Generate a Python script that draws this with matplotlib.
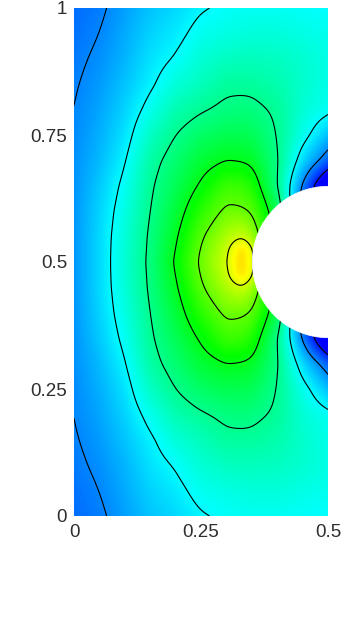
"""Field on a domain with a circular hole, filled plus contour lines."""
import numpy as np
import matplotlib
matplotlib.use("Agg")
import matplotlib.pyplot as plt  # noqa: E402
from matplotlib.colors import LinearSegmentedColormap  # noqa: E402
from matplotlib.patches import Circle  # noqa: E402

plt.rcParams["font.family"] = ["Liberation Sans", "DejaVu Sans"]

x_nodes = [0, 0.05, 0.1, 0.15, 0.2, 0.25, 0.3, 0.33, 0.35, 0.4, 0.45, 0.5]
y_nodes = [0, 0.05, 0.1, 0.15, 0.2, 0.25, 0.3, 0.35, 0.4, 0.45, 0.475, 0.5, 0.525,
           0.55, 0.6, 0.65, 0.7, 0.75, 0.8, 0.85, 0.9, 0.95, 1]

# rows run from y=0 up to y=1, values under the hole are only there for the contours
field = [
    [.105, .12, .155, .19, .21, .24, .255, .26, .26, .26, .255, .25],
    [.11, .13, .165, .205, .228, .265, .275, .28, .285, .285, .275, .265],
    [.118, .14, .175, .22, .25, .29, .31, .315, .315, .31, .295, .275],
    [.125, .15, .19, .235, .285, .315, .345, .345, .345, .33, .30, .27],
    [.131, .16, .205, .265, .325, .353, .375, .38, .375, .35, .29, .26],
    [.135, .17, .22, .305, .36, .40, .42, .42, .415, .358, .27, .185],
    [.14, .18, .24, .335, .39, .445, .475, .47, .46, .368, .21, .09],
    [.142, .195, .26, .35, .415, .485, .555, .55, .525, .365, .12, -.11],
    [.145, .205, .275, .36, .44, .535, .605, .60, .585, .42, .07, -.1],
    [.145, .21, .285, .37, .465, .58, .665, .70, .655, .43, .20, .0],
    [.145, .21, .288, .372, .475, .595, .69, .79, .72, .44, .25, .05],
    [.145, .21, .29, .375, .485, .605, .70, .80, .72, .45, .30, .10],
    [.145, .21, .288, .372, .475, .595, .69, .79, .72, .44, .25, .05],
    [.145, .21, .285, .37, .465, .58, .665, .70, .655, .43, .20, .0],
    [.145, .205, .275, .36, .44, .535, .605, .60, .585, .42, .07, -.1],
    [.142, .195, .26, .35, .415, .485, .555, .55, .525, .365, .12, -.11],
    [.14, .18, .24, .335, .39, .445, .475, .47, .46, .368, .21, .09],
    [.135, .17, .22, .305, .36, .40, .42, .42, .415, .358, .27, .185],
    [.131, .16, .205, .265, .325, .353, .375, .38, .375, .35, .29, .26],
    [.125, .15, .19, .235, .285, .315, .345, .345, .345, .33, .30, .27],
    [.118, .14, .175, .22, .25, .29, .31, .315, .315, .31, .295, .275],
    [.11, .13, .165, .205, .228, .265, .275, .28, .285, .285, .275, .265],
    [.105, .12, .155, .19, .21, .24, .255, .26, .26, .26, .255, .25],
]
contour_levels = [0.02, 0.13, 0.245, 0.36, 0.475, 0.59, 0.705]
x_ticks = [0, 0.25, 0.5]
x_labels = ["0", "0.25", "0.5"]
y_ticks = [0, 0.25, 0.5, 0.75, 1]
y_labels = ["0", "0.25", "0.5", "0.75", "1"]
hole_center = (0.5, 0.5)
hole_radius = 0.149
blur = 0.008  # display smoothing of the coarse read-off table

cmap = LinearSegmentedColormap.from_list(
    "fem", ["#0000ff", "#00ffff", "#00ff00", "#ffff00", "#ff0000"], N=512)

# resample the table on a fine regular grid and blur it, so lines don't show the coarse cells
step = 0.0025
xf = np.arange(0, 0.5 + step / 2, step)
yf = np.arange(0, 1 + step / 2, step)
z = np.array([np.interp(xf, x_nodes, row) for row in field])
z = np.array([np.interp(yf, y_nodes, col) for col in z.T]).T
n = int(3 * blur / step)
kern = np.exp(-0.5 * (np.arange(-n, n + 1) * step / blur) ** 2)
kern /= kern.sum()
z = np.pad(z, n, mode="reflect", reflect_type="odd")
z = np.apply_along_axis(np.convolve, 0, z, kern, mode="same")
z = np.apply_along_axis(np.convolve, 1, z, kern, mode="same")
z = z[n:-n, n:-n]

W, H = 352, 625
fig = plt.figure(figsize=(W / 100, H / 100), dpi=100)
ax = fig.add_axes([74 / W, 1 - 516 / H, 254 / W, 508 / H])

ax.contourf(xf, yf, z, levels=np.linspace(0, 1, 257), cmap=cmap, vmin=0, vmax=1,
            extend="both", antialiased=False)
ax.contour(xf, yf, z, levels=contour_levels, colors="k", linewidths=0.8)
ax.add_patch(Circle(hole_center, hole_radius, fc="white", ec="white", lw=0.5, zorder=3))

ax.set_xlim(0, 0.5)
ax.set_ylim(0, 1)
ax.set_xticks(x_ticks, x_labels)
ax.set_yticks(y_ticks, y_labels)
ax.tick_params(length=0, labelsize=13.5, labelcolor="#2e2e2e")
ax.tick_params(axis="x", pad=6)
ax.tick_params(axis="y", pad=5)
for s in ax.spines.values():
    s.set_visible(False)

fig.savefig("out.png", dpi=100)
